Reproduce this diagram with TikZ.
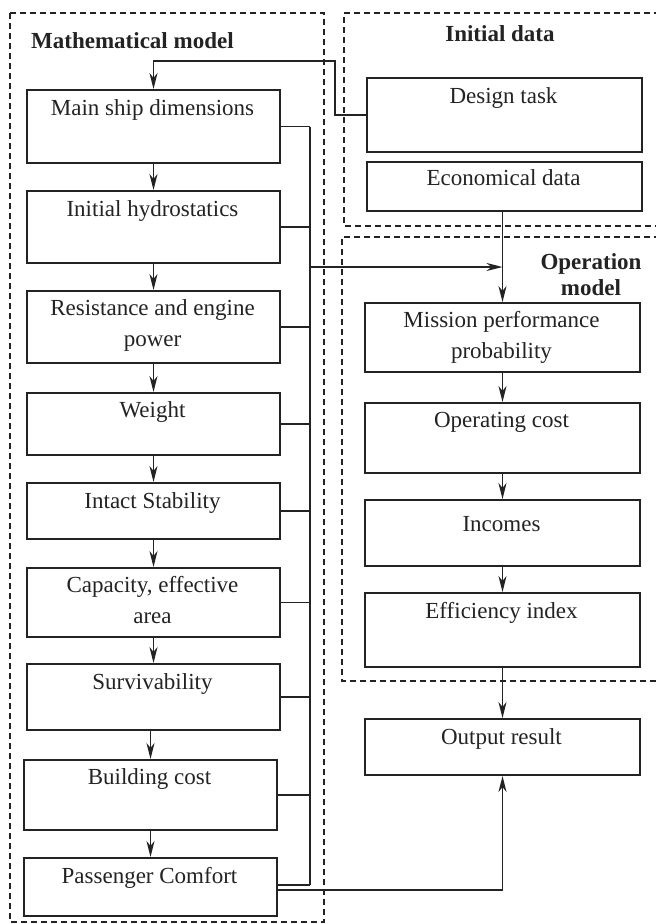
\documentclass[tikz,border=0pt]{standalone}
\usepackage{fontspec}
\setmainfont{Liberation Serif}
\usetikzlibrary{arrows.meta}
\definecolor{ink}{RGB}{35,35,35}
\begin{document}
\begin{tikzpicture}[x=1pt,y=-1pt,
  box/.style={draw=ink, line width=2pt, rectangle, inner sep=0pt, anchor=north west},
  txt/.style={font=\fontsize{23}{31}\selectfont, text=ink, align=center, inner sep=0pt, anchor=base},
  ttl/.style={font=\fontsize{23}{26}\selectfont\bfseries, text=ink, align=center, inner sep=0pt, anchor=base},
  frame/.style={draw=ink, line width=1.5pt, dash pattern=on 6pt off 4pt},
  conn/.style={draw=ink, line width=1.8pt},
  arr/.style={conn, -{Stealth[length=16pt,width=8pt,inset=5pt]}}
]
\useasboundingbox (0,0) rectangle (656,924);
\fill[white] (0,0) rectangle (656,924);

% frames
\draw[frame] (10,13) rectangle (324,922);
\draw[frame] (660,13) -- (344,13) -- (344,226) -- (660,226);
\draw[frame] (660,237) -- (342,237) -- (342,681) -- (660,681);

% titles (base = last line)
\node[ttl, anchor=base west] (tmath) at (31,48) {Mathematical model};
\node[ttl] (tinit) at (500,41) {Initial data};
\node[ttl] (top) at (591,295) {Operation\\model};

% left column boxes
\node[box, minimum width=253, minimum height=73] (m1) at (26,89) {};
\node[box, minimum width=253, minimum height=72] (m2) at (26,190) {};
\node[box, minimum width=253, minimum height=72] (m3) at (26,290) {};
\node[box, minimum width=253, minimum height=62] (m4) at (26,392) {};
\node[box, minimum width=253, minimum height=56] (m5) at (26,482) {};
\node[box, minimum width=253, minimum height=69] (m6) at (26,567) {};
\node[box, minimum width=253, minimum height=66] (m7) at (26,663) {};
\node[box, minimum width=253, minimum height=70] (m8) at (23,759) {};
\node[box, minimum width=253, minimum height=58] (m9) at (23,857) {};

\node[txt] (l1) at (152.5,115) {Main ship dimensions};
\node[txt] (l2) at (152.5,216) {Initial hydrostatics};
\node[txt] (l3) at (152.5,346) {Resistance and engine\\power};
\node[txt] (l4) at (152.5,417) {Weight};
\node[txt] (l5) at (152.5,508) {Intact Stability};
\node[txt] (l6) at (152.5,623) {Capacity, effective\\area};
\node[txt] (l7) at (152.5,689) {Survivability};
\node[txt] (l8) at (149.5,784) {Building cost};
\node[txt] (l9) at (149.5,883) {Passenger Comfort};

% right column boxes
\node[box, minimum width=275, minimum height=74] (dt) at (366,77) {};
\node[box, minimum width=275, minimum height=49] (ec) at (366,161) {};
\node[box, minimum width=275, minimum height=69] (mp) at (364,302) {};
\node[box, minimum width=275, minimum height=70] (oc) at (364,402) {};
\node[box, minimum width=275, minimum height=66] (inc) at (364,499) {};
\node[box, minimum width=275, minimum height=74] (eff) at (364,592) {};
\node[box, minimum width=275, minimum height=56] (out) at (364,718) {};

\node[txt] (r1) at (503.5,103) {Design task};
\node[txt] (r2) at (503.5,185) {Economical data};
\node[txt] (r3) at (501.5,358) {Mission performance\\probability};
\node[txt] (r4) at (501.5,427) {Operating cost};
\node[txt] (r5) at (501.5,531) {Incomes};
\node[txt] (r6) at (501.5,618) {Efficiency index};
\node[txt] (r7) at (501.5,744) {Output result};

% left column arrows
\foreach \a/\b in {m1/m2,m2/m3,m3/m4,m4/m5,m5/m6,m6/m7}
  \draw[arr] (\a.south) -- (\a.south |- \b.north);
\draw[arr] (m8.north |- m7.south) -- (m8.north);
\draw[arr] (m8.south) -- (m9.north);

% bus
\coordinate (bus) at (310,0);
\foreach \a in {m1,m2,m3,m4,m5,m6,m7,m8}
  \draw[conn] (\a.east) -- (\a.east -| bus);
\draw[conn] ([yshift=2pt]m9.east) -- ([yshift=2pt]m9.east -| bus);
\draw[conn] (m1.east -| bus) -- ([yshift=2pt]m9.east -| bus);

\coordinate (tap) at (310,267);
\draw[arr] (tap) -- (tap -| mp.north);

% feedback from design task
\coordinate (fb) at (335,61);
\draw[arr] (dt.west) -| (fb) -| (m1.north);

% economical data to mission
\draw[arr] (ec.south -| mp.north) -- (mp.north);

% right column arrows
\foreach \a/\b in {mp/oc,oc/inc,inc/eff,eff/out}
  \draw[arr] (\a.south) -- (\b.north);

% passenger comfort to output
\draw[arr] ([yshift=-3pt]m9.east) -| (out.south);
\end{tikzpicture}
\end{document}
